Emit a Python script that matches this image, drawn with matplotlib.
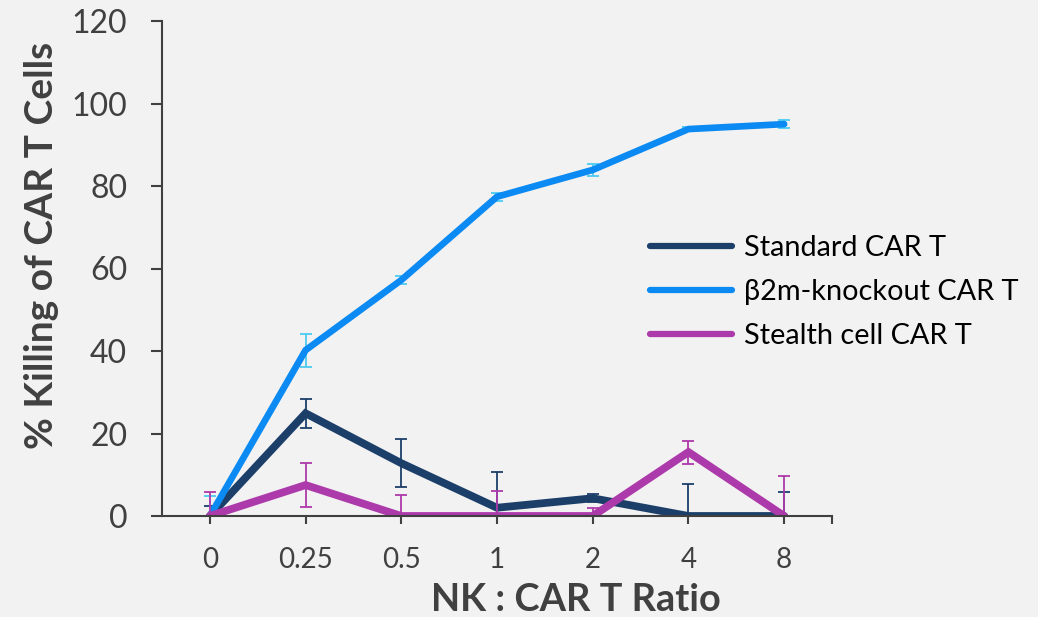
import matplotlib
matplotlib.use("Agg")
import matplotlib.pyplot as plt

plt.rcParams['font.family'] = ['Lato', 'DejaVu Sans']

ratios = ['0', '0.25', '0.5', '1', '2', '4', '8']

standard = [0, 24.9, 12.8, 2.0, 4.3, 0, 0]
standard_err = [2.5, 3.5, 5.8, 8.6, 1.0, 7.7, 5.9]

b2m_ko = [0, 40.2, 57.2, 77.4, 83.9, 93.8, 95.0]
b2m_ko_err = [4.9, 4.0, 1.0, 1.0, 1.5, 0.5, 1.0]

stealth = [0, 7.5, 0, 0, 0, 15.5, 0]
stealth_err = [5.7, 5.4, 5.1, 6.1, 2.0, 2.8, 9.8]

series = [
    ('Standard CAR T', standard, standard_err, '#1c3f6a', '#1c3f6a', 5.6),
    ('\u03b22m-knockout CAR T', b2m_ko, b2m_ko_err, '#0a8af2', '#4ccbf0', 4.8),
    ('Stealth cell CAR T', stealth, stealth_err, '#ad3aab', '#ad3aab', 5.6),
]

bg = '#f2f2f2'
axis_col = '#404040'

fig = plt.figure(figsize=(10.38, 6.17), dpi=100, facecolor=bg)
ax = fig.add_axes([162 / 1038, 101 / 617, 670 / 1038, 495 / 617])
ax.set_facecolor(bg)

x = list(range(len(ratios)))
for name, vals, errs, col, ecol, lw in series:
    ax.errorbar(x, vals, yerr=errs, fmt='none', ecolor=ecol,
                elinewidth=1.3, capsize=4.3, capthick=1.3)
    ax.plot(x, vals, color=col, lw=lw, label=name,
            solid_capstyle='round', solid_joinstyle='miter')

ax.set_xlim(-0.5, 6.5)
ax.set_ylim(0, 120)
ax.set_yticks(range(0, 121, 20))
ax.set_xticks(x)
ax.set_xticklabels(ratios)
ax.set_xticks([6.5], minor=True)

for s in ['top', 'right']:
    ax.spines[s].set_visible(False)
for s in ['left', 'bottom']:
    ax.spines[s].set_color(axis_col)
    ax.spines[s].set_linewidth(1.5)

ax.tick_params(axis='y', length=8, width=1.5, color=axis_col, pad=17,
               labelsize=23, labelcolor=axis_col)
ax.tick_params(axis='x', which='both', length=6, width=1.5, color=axis_col,
               pad=16, labelsize=20, labelcolor=axis_col)

fig.text(0.0395, 0.603, '% Killing of CAR T Cells', rotation=90,
         ha='center', va='center', fontsize=28, fontweight='bold',
         color=axis_col)
fig.text(576 / 1038, 0.01, 'NK : CAR T Ratio', ha='center', va='baseline',
         fontsize=27.4, fontweight='bold', color=axis_col)

leg = ax.legend(loc='upper left', bbox_to_anchor=(0.728, 0.567),
                frameon=False, fontsize=20.8, handlelength=2.85,
                handletextpad=0.4, labelspacing=0.62, borderpad=0,
                borderaxespad=0)
for line in leg.get_lines():
    line.set_linewidth(4.5)
for t in leg.get_texts():
    t.set_color('black')

fig.savefig('out.png', dpi=100, facecolor=bg)
